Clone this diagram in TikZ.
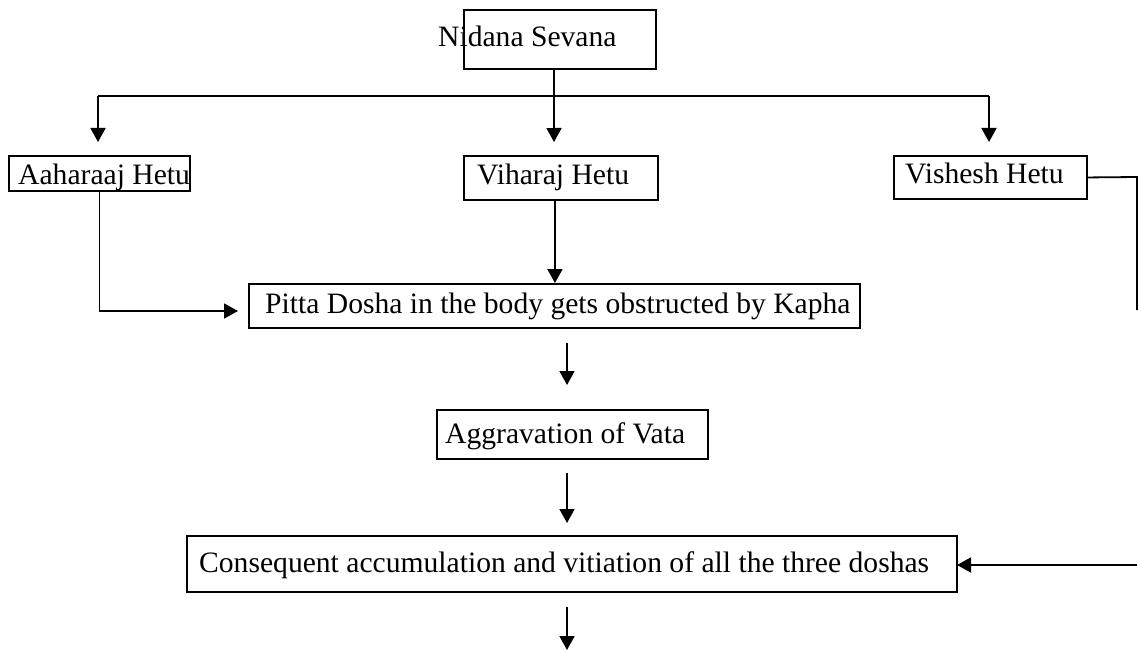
\documentclass[tikz,border=0pt]{standalone}
\usepackage{fontspec}
\setmainfont{Liberation Serif}
\usetikzlibrary{arrows.meta}
\begin{document}
\begin{tikzpicture}[x=1pt,y=-1pt,
  box/.style={draw, line width=1.9pt, inner sep=0pt, anchor=north west},
  lbl/.style={anchor=base west, inner sep=0pt, font=\fontsize{29.6}{36}\selectfont},
  conn/.style={line width=1.8pt},
  arr/.style={conn, -{Triangle[length=14pt,width=15pt]}}]
\useasboundingbox[fill=white] (0,0) rectangle (1138,650);

% boxes
\node[box, minimum width=192pt, minimum height=59pt] (nidana) at (463,9) {};
\node[box, minimum width=181pt, minimum height=35pt] (aahar) at (8,155) {};
\node[box, minimum width=194pt, minimum height=44pt] (vihar) at (463,155) {};
\node[box, minimum width=193pt, minimum height=43pt] (vishesh) at (893,155) {};
\node[box, minimum width=611pt, minimum height=44pt] (pitta) at (248,283) {};
\node[box, minimum width=271pt, minimum height=49pt] (agg) at (436,409) {};
\node[box, minimum width=770pt, minimum height=56pt] (cons) at (186,535) {};

% texts
\node[lbl] (nidanaT) at (438,46.5) {Nidana Sevana};
\node[lbl] (aaharT) at (18,184) {Aaharaaj Hetu};
\node[lbl] (viharT) at (477,184) {Viharaj Hetu};
\node[lbl] (visheshT) at (905,183) {Vishesh Hetu};
\node[lbl] (pittaT) at (265,313) {Pitta Dosha in the body gets obstructed by Kapha};
\node[lbl] (aggT) at (445,443) {Aggravation of Vata};
\node[lbl] (consT) at (199,572) {Consequent accumulation and vitiation of all the three doshas};

% connector end points
\coordinate (leftTop) at (98,96);
\coordinate (rightTop) at (989,96);
\coordinate (viharIn) at (554,142);
\coordinate (aaharIn) at (98,142);
\coordinate (visheshIn) at (989,142);
\coordinate (pittaIn) at (238,311);
\coordinate (edgeTop) at (1137,177);
\coordinate (edgeEnd) at (1137,310);
\coordinate (edgeLow) at (1137,565);
\coordinate (consIn) at (957,565);
\coordinate (a1s) at (567,343);
\coordinate (a1e) at (567,385);
\coordinate (a2s) at (567,473);
\coordinate (a2e) at (567,523);
\coordinate (a3s) at (567,607);
\coordinate (a3e) at (567,650);

% connectors
\draw[arr] ([xshift=-6pt]nidana.south) -- (viharIn);
\draw[conn] (leftTop) -- (rightTop);
\draw[arr] (leftTop) -- (aaharIn);
\draw[arr] (rightTop) -- (visheshIn);
\draw[arr] ([xshift=-6pt]vihar.south) -- ([xshift=-6pt]vihar.south |- pitta.north);
\draw[arr] (aahar.south) |- (pittaIn);
\draw[conn] (vishesh.east) -- (edgeTop) -- (edgeEnd);
\draw[arr] (edgeLow) -- (consIn);
\draw[arr] (a1s) -- (a1e);
\draw[arr] (a2s) -- (a2e);
\draw[arr] (a3s) -- (a3e);
\end{tikzpicture}
\end{document}
